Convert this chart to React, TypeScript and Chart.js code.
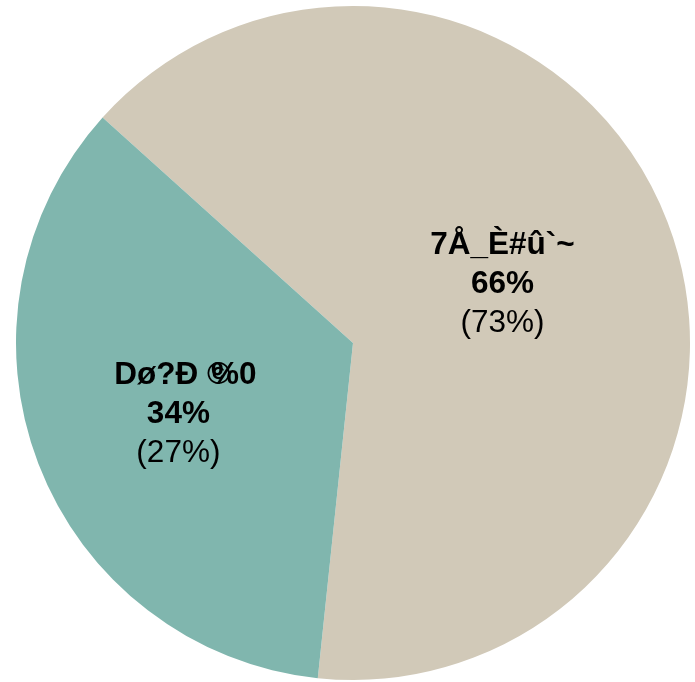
import React, { useEffect, useRef } from "react";
import { Chart, registerables } from "chart.js";

Chart.register(...registerables);

const categories = ["7Å_È#û`~", "Dø?Ð ©%0"];
const sliceValues = [65, 35];
const shareLabels = ["66%", "34%"];
const altShareLabels = ["(73%)", "(27%)"];
const sliceColors = ["#D1C9B8", "#80B6AE"];

const FONT = "Arial, 'Liberation Sans', sans-serif";
const SIZE = 31.5;

function drawOverlapped(ctx: any, text: string, cx: number, cy: number) {
  // "©" and "%" overlap in the reference rendering
  const idx = text.indexOf("©");
  if (idx < 0) {
    ctx.textAlign = "center";
    ctx.fillText(text, cx, cy);
    return;
  }
  const head = text.slice(0, idx + 1);
  const tail = text.slice(idx + 1);
  const pre = text.slice(0, idx);
  const preW = ctx.measureText(pre).width;
  const tailW = ctx.measureText(tail).width;
  const shift = 4;
  const extent = preW + shift + tailW;
  const left = cx + 7 - extent / 2;
  ctx.textAlign = "left";
  ctx.fillText(head, left, cy);
  ctx.fillText(tail, left + preW + shift, cy);
}

const labelPlugin = {
  id: "sliceLabels",
  afterDatasetsDraw(chart: any) {
    const ctx = chart.ctx;
    const meta = chart.getDatasetMeta(0);
    const fractions = [0.475, 0.555];
    const nudgeY = [-1, 4];
    const lineH = 39;
    meta.data.forEach((arc: any, i: number) => {
      const { x, y, startAngle, endAngle, outerRadius } = arc.getProps(
        ["x", "y", "startAngle", "endAngle", "outerRadius"],
        true
      );
      const mid = (startAngle + endAngle) / 2;
      const r = outerRadius * fractions[i];
      const cx = x + Math.cos(mid) * r;
      const cy = y + Math.sin(mid) * r + nudgeY[i];
      ctx.save();
      ctx.fillStyle = "#000";
      ctx.textBaseline = "middle";
      ctx.font = `bold ${SIZE}px ${FONT}`;
      drawOverlapped(ctx, categories[i], cx, cy - lineH);
      ctx.textAlign = "center";
      ctx.fillText(shareLabels[i], cx, cy);
      ctx.font = `normal ${SIZE}px ${FONT}`;
      ctx.fillText(altShareLabels[i], cx, cy + lineH);
      ctx.restore();
    });
  },
};

export default function App() {
  const ref = useRef<HTMLCanvasElement>(null);
  useEffect(() => {
    document.body.style.margin = "0";
    const chart = new Chart(ref.current!, {
      type: "pie",
      data: {
        labels: categories,
        datasets: [
          {
            data: sliceValues,
            backgroundColor: sliceColors,
            borderWidth: 0,
          },
        ],
      },
      options: {
        animation: false,
        responsive: false,
        rotation: 312,
        layout: { padding: { left: 16, right: 5, top: 6, bottom: 2 } },
        plugins: {
          legend: { display: false },
          tooltip: { enabled: false },
        },
      },
      plugins: [labelPlugin],
    });
    return () => chart.destroy();
  }, []);
  return (
    <div style={{ width: 695, height: 682 }}>
      <canvas ref={ref} width={695} height={682} style={{ display: "block" }} />
    </div>
  );
}
